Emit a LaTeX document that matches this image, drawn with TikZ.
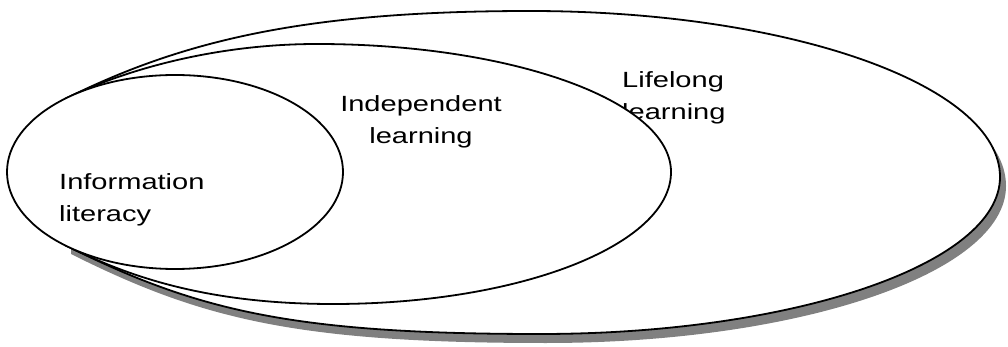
\documentclass[tikz,border=0pt]{standalone}
\usepackage{fontspec}
\newfontfamily\labfont[FakeStretch=1.32]{Liberation Sans}
\begin{document}
\begin{tikzpicture}[x=1pt,y=-1pt,
  shapeline/.style={line width=1.8pt, draw=black, fill=white},
  shadowfill/.style={fill=black!50, draw=none},
  labeltext/.style={font=\labfont\fontsize{22}{32}\selectfont, inner sep=0pt, text=black}]
\useasboundingbox (0,0) rectangle (1008,347);
% shadow of the outer shape
\path[shadowfill, shift={(6,9)}] (65,99) .. controls (185,39) and (310,11) .. (530,11)
  .. controls (789,11) and (1000,85) .. (1000,177)
  .. controls (1000,264) and (794,334) .. (540,334)
  .. controls (290,334) and (195,310) .. (65,245) -- cycle;
% outer: lifelong learning
\path[shapeline] (65,99) .. controls (185,39) and (310,11) .. (530,11)
  .. controls (789,11) and (1000,85) .. (1000,177)
  .. controls (1000,264) and (794,334) .. (540,334)
  .. controls (290,334) and (195,310) .. (65,245) -- cycle;
\node[labeltext, anchor=north west, align=left] (lifelong) at (622,71) {Lifelong\\learning};
% middle: independent learning
\path[shapeline] (65,99) .. controls (115,74) and (207,44) .. (317,44)
  .. controls (512,44) and (671,101) .. (671,172)
  .. controls (671,245) and (520,304) .. (333,304)
  .. controls (203,304) and (125,275) .. (65,245) -- cycle;
\node[labeltext, anchor=north, align=center] (independent) at (421,95) {Independent\\learning};
% inner: information literacy
\path[shapeline] (175,172) ellipse [x radius=168, y radius=97];
\node[labeltext, anchor=north west, align=left] (infolit) at (59,173) {Information\\literacy};
\end{tikzpicture}
\end{document}
